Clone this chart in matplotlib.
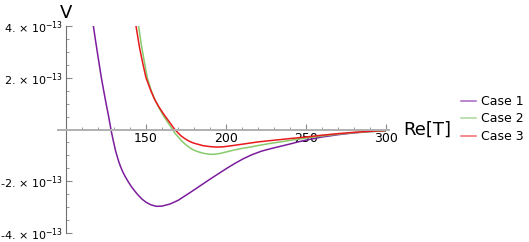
import matplotlib.pyplot as plt
from matplotlib.lines import Line2D
from matplotlib.ticker import MultipleLocator, FixedLocator

# values, V in units of 1e-13
case1_x = [117.1, 118.5, 120, 121, 122.1, 123.5, 125, 126.5, 128.1, 129.5, 131, 132.7,
           134, 135.5, 137, 139, 141, 143, 145, 147.5, 150, 153, 156.5, 160, 165, 170,
           177.5, 184, 190, 195, 200, 205, 210.8, 216, 222, 228, 234, 240, 245, 250,
           260, 270, 280, 290, 300]
case1_v = [4.0, 3.42, 2.82, 2.43, 2.0, 1.52, 1.02, 0.55, 0.0, -0.42, -0.83, -1.19,
           -1.42, -1.64, -1.82, -2.03, -2.22, -2.38, -2.53, -2.69, -2.81, -2.91, -2.97,
           -2.96, -2.88, -2.74, -2.44, -2.17, -1.92, -1.72, -1.52, -1.33, -1.13, -0.98,
           -0.84, -0.74, -0.65, -0.56, -0.48, -0.41, -0.29, -0.2, -0.13, -0.08, -0.05]

case2_x = [145.4, 147, 149, 150.8, 153, 155.2, 158, 161, 164, 166.6, 168, 170, 172,
           174, 176, 178, 180, 183, 186, 189, 192, 196, 200, 204.6, 210, 215, 220,
           227.5, 234, 240, 250, 260, 270, 280, 290, 300]
case2_v = [4.0, 3.3, 2.6, 2.0, 1.55, 1.2, 0.85, 0.52, 0.24, 0.0, -0.14, -0.28, -0.42,
           -0.54, -0.64, -0.73, -0.8, -0.87, -0.92, -0.95, -0.96, -0.93, -0.87, -0.8,
           -0.73, -0.68, -0.62, -0.54, -0.48, -0.42, -0.33, -0.25, -0.18, -0.12, -0.08,
           -0.05]

case3_x = [143.75, 146, 148, 150, 153, 155.5, 158, 161, 164.5, 168, 170, 172, 174, 176,
           178, 180, 183, 186, 190, 194, 198, 202, 210, 220, 227.5, 234, 240, 250, 260,
           270, 280, 290, 300]
case3_v = [4.0, 3.15, 2.55, 2.0, 1.5, 1.15, 0.88, 0.6, 0.3, 0.0, -0.13, -0.25, -0.34,
           -0.42, -0.48, -0.53, -0.58, -0.63, -0.66, -0.68, -0.67, -0.64, -0.57, -0.48,
           -0.43, -0.39, -0.35, -0.29, -0.22, -0.16, -0.11, -0.07, -0.04]

labels = ['Case 1', 'Case 2', 'Case 3']
colors = ['#7b1d9c', '#88ca6c', '#e81a1c']
legend_colors = ['#a565c0', '#a9d898', '#ef6a6c']

xticks = [150, 200, 250, 300]
yticks = [-4e-13, -2e-13, 2e-13, 4e-13]
ytick_labels = ['-4. × 10$^{-13}$', '-2. × 10$^{-13}$',
                '2. × 10$^{-13}$', '4. × 10$^{-13}$']

fig = plt.figure(figsize=(5.29, 2.42), dpi=100)
ax = fig.add_axes([58 / 529, 9 / 242, 328 / 529, 207 / 242])

series = [(case1_x, case1_v), (case2_x, case2_v), (case3_x, case3_v)]
for (xs, vs), c in zip(series, colors):
    ax.plot(xs, [v * 1e-13 for v in vs], color=c, lw=1.1)

ax.set_xlim(95, 300)
ax.set_ylim(-4e-13, 4e-13)

# Mathematica-style axes crossing at (100, 0)
ax.spines['left'].set_position(('data', 100))
ax.spines['bottom'].set_position(('data', 0))
ax.spines['right'].set_visible(False)
ax.spines['top'].set_visible(False)
ax.spines['bottom'].set_color('#b0b0b0')
ax.spines['bottom'].set_linewidth(1.4)
ax.spines['left'].set_color('#707070')
ax.spines['left'].set_linewidth(0.8)
ax.spines['bottom'].set_bounds(95, 302)

ax.xaxis.set_major_locator(FixedLocator(xticks))
ax.xaxis.set_minor_locator(MultipleLocator(10))
ax.yaxis.set_major_locator(FixedLocator(yticks))
ax.yaxis.set_minor_locator(MultipleLocator(0.5e-13))
ax.set_yticklabels(ytick_labels)

ax.tick_params(axis='both', which='both', direction='in', color='#888888')
ax.tick_params(axis='x', which='major', length=4, width=0.8, labelsize=9, pad=2)
ax.tick_params(axis='x', which='minor', length=2.5, width=0.6)
ax.tick_params(axis='y', which='major', length=4, width=0.8, labelsize=8, pad=2)
ax.tick_params(axis='y', which='minor', length=2.5, width=0.6)

ax.text(100, 4.15e-13, 'V', ha='center', va='bottom', fontsize=13, clip_on=False)
ax.text(403 / 529, 1 - 130 / 242, 'Re[T]', transform=fig.transFigure,
        ha='left', va='center', fontsize=13)

handles = [Line2D([], [], color=c, lw=1.1) for c in legend_colors]
fig.legend(handles, labels, loc='center left', bbox_to_anchor=(461 / 529, 1 - 119 / 242),
           frameon=False, fontsize=9, handlelength=1.2, handletextpad=0.4,
           labelspacing=0.35, borderaxespad=0, borderpad=0)

fig.savefig('out.png', dpi=100)
